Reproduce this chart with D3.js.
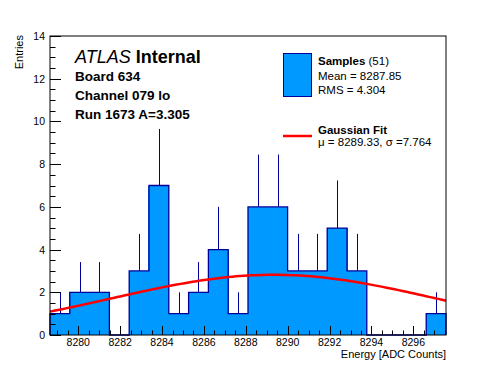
<!DOCTYPE html>
<html>
<head>
<meta charset="utf-8">
<script src="https://cdn.jsdelivr.net/npm/d3@7"></script>
<style>
  body { margin: 0; background: #fff; }
  text { font-family: "Liberation Sans", Arial, Helvetica, sans-serif; }
</style>
</head>
<body>
<script>
// histogram: 20 bins between xRange[0] and xRange[1]
var xRange = [8278.65, 8297.56];
var counts = [1, 2, 2, 0, 3, 7, 1, 2, 4, 1, 6, 6, 3, 3, 5, 3, 0, 0, 0, 1];
var yRange = [0, 14];
var xTicks = [8280, 8282, 8284, 8286, 8288, 8290, 8292, 8294, 8296];
var yTicks = [0, 2, 4, 6, 8, 10, 12, 14];
// gaussian fit parameters (amplitude)
var fitMu = 8289.33, fitSigma = 7.764, fitAmp = 2.82;
var infoLines = ["Board 634", "Channel 079 lo", "Run 1673 A=3.305"];

var w = 496, h = 372;
var fLeft = 50, fRight = 446, fTop = 36, fBottom = 335;
var barFill = "#0099ff", barLine = "#000099";

var svg = d3.select("body").append("svg")
    .attr("width", w)
    .attr("height", h);

var x = d3.scaleLinear().domain(xRange).range([fLeft, fRight]);
var y = d3.scaleLinear().domain(yRange).range([fBottom, fTop]);

var nb = counts.length;
var bw = (xRange[1] - xRange[0]) / nb;
var bins = counts.map(function (c, i) {
    return { x0: xRange[0] + i * bw, x1: xRange[0] + (i + 1) * bw, n: c };
});

// error bars (upper half only shows above fill)
svg.selectAll("line.err")
    .data(bins.filter(function (d) { return d.n > 0; }))
    .enter()
    .append("line")
    .attr("class", "err")
    .attr("x1", function (d) { return Math.round(x((d.x0 + d.x1) / 2)) + 0.5; })
    .attr("x2", function (d) { return Math.round(x((d.x0 + d.x1) / 2)) + 0.5; })
    .attr("y1", function (d) { return y(d.n); })
    .attr("y2", function (d) { return y(d.n + Math.sqrt(d.n)); })
    .attr("stroke", barLine)
    .attr("stroke-width", 1);

svg.selectAll("rect.bin")
    .data(bins)
    .enter()
    .append("rect")
    .attr("class", "bin")
    .attr("x", function (d) { return Math.floor(x(d.x0)); })
    .attr("width", function (d) { return Math.ceil(x(d.x1)) - Math.floor(x(d.x0)); })
    .attr("y", function (d) { return y(d.n); })
    .attr("height", function (d) { return y(0) - y(d.n); })
    .attr("fill", barFill)
    .attr("shape-rendering", "crispEdges");

// step outline of the whole histogram
var pts = [[xRange[0], 0]];
bins.forEach(function (d) { pts.push([d.x0, d.n]); pts.push([d.x1, d.n]); });
pts.push([xRange[1], 0]);
svg.append("path")
    .attr("d", d3.line().x(function (p) { return x(p[0]); }).y(function (p) { return y(p[1]); })(pts))
    .attr("fill", "none")
    .attr("stroke", barLine)
    .attr("stroke-width", 1.3);

// gaussian fit
var fitPts = d3.range(0, 101).map(function (i) {
    var xv = xRange[0] + i * (xRange[1] - xRange[0]) / 100;
    var dz = (xv - fitMu) / fitSigma;
    return [xv, fitAmp * Math.exp(-0.5 * dz * dz)];
});
svg.append("path")
    .attr("d", d3.line().x(function (p) { return x(p[0]); }).y(function (p) { return y(p[1]); })(fitPts))
    .attr("fill", "none")
    .attr("stroke", "#ff0000")
    .attr("stroke-width", 2.5);

// frame
svg.append("rect")
    .attr("x", fLeft).attr("y", fTop)
    .attr("width", fRight - fLeft).attr("height", fBottom - fTop)
    .attr("fill", "none")
    .attr("stroke", "#000")
    .attr("stroke-width", 1);

// x ticks (inside, pointing up)
var xMinor = d3.range(Math.ceil(xRange[0] * 2) / 2, xRange[1], 0.5);
svg.selectAll("line.xt")
    .data(xMinor)
    .enter()
    .append("line")
    .attr("class", "xt")
    .attr("x1", function (d) { return Math.round(x(d)) + 0.5; })
    .attr("x2", function (d) { return Math.round(x(d)) + 0.5; })
    .attr("y1", fBottom)
    .attr("y2", function (d) { return d % 2 === 0 ? fBottom - 9 : fBottom - 4.5; })
    .attr("stroke", "#000");
svg.selectAll("text.xl")
    .data(xTicks)
    .enter()
    .append("text")
    .attr("class", "xl")
    .attr("x", function (d) { return x(d); })
    .attr("y", 346)
    .attr("text-anchor", "middle")
    .attr("font-size", 10.5)
    .text(function (d) { return d; });

// y ticks (inside, pointing right)
var yMinor = d3.range(0, 14.01, 0.5);
svg.selectAll("line.yt")
    .data(yMinor)
    .enter()
    .append("line")
    .attr("class", "yt")
    .attr("x1", fLeft)
    .attr("x2", function (d) { return d % 2 === 0 ? fLeft + 11 : fLeft + 5.5; })
    .attr("y1", function (d) { return Math.round(y(d)) + 0.5; })
    .attr("y2", function (d) { return Math.round(y(d)) + 0.5; })
    .attr("stroke", "#000");
svg.selectAll("text.yl")
    .data(yTicks)
    .enter()
    .append("text")
    .attr("class", "yl")
    .attr("x", 45)
    .attr("y", function (d) { return y(d) + 4; })
    .attr("text-anchor", "end")
    .attr("font-size", 10.5)
    .text(function (d) { return d; });

// axis titles
svg.append("text")
    .attr("x", fRight)
    .attr("y", 358)
    .attr("text-anchor", "end")
    .attr("font-size", 11)
    .text("Energy [ADC Counts]");
svg.append("text")
    .attr("transform", "translate(23," + (fTop - 1) + ") rotate(-90)")
    .attr("text-anchor", "end")
    .attr("font-size", 11)
    .text("Entries");

// ATLAS label
var atl = svg.append("text")
    .attr("x", 75)
    .attr("y", 63)
    .attr("font-size", 18);
atl.append("tspan").attr("font-style", "italic").text("ATLAS");
atl.append("tspan").attr("font-weight", "bold").text(" Internal");
svg.selectAll("text.info")
    .data(infoLines)
    .enter()
    .append("text")
    .attr("class", "info")
    .attr("x", 75)
    .attr("y", function (d, i) { return 81 + i * 19; })
    .attr("font-size", 13.5)
    .attr("font-weight", "bold")
    .text(function (d) { return d; });

// legend
svg.append("rect")
    .attr("x", 283.5).attr("y", 53.5)
    .attr("width", 28).attr("height", 43)
    .attr("fill", barFill)
    .attr("stroke", barLine)
    .attr("stroke-width", 1);
var l1 = svg.append("text").attr("x", 318).attr("y", 65).attr("font-size", 11.5);
l1.append("tspan").attr("font-weight", "bold").text("Samples");
l1.append("tspan").text(" (51)");
svg.append("text").attr("x", 318).attr("y", 80).attr("font-size", 11.5).text("Mean = 8287.85");
svg.append("text").attr("x", 318).attr("y", 94).attr("font-size", 11.5).text("RMS = 4.304");

svg.append("line")
    .attr("x1", 283).attr("x2", 312)
    .attr("y1", 136).attr("y2", 136)
    .attr("stroke", "#ff0000")
    .attr("stroke-width", 2.5);
svg.append("text").attr("x", 318).attr("y", 134).attr("font-size", 11.5)
    .attr("font-weight", "bold").text("Gaussian Fit");
svg.append("text").attr("x", 318).attr("y", 146).attr("font-size", 11.5)
    .text("\u03bc = 8289.33, \u03c3 =7.764");
</script>
</body>
</html>
